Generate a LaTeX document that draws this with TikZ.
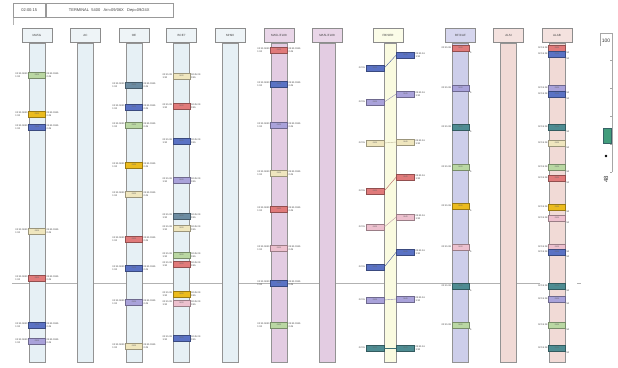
\documentclass[tikz,border=0pt]{standalone}
\usepackage{fontspec}
\setmainfont{Liberation Sans}
\usetikzlibrary{shadows}
\definecolor{sred}{HTML}{E07A7A}
\definecolor{sblue}{HTML}{5A72C4}
\definecolor{sgreen}{HTML}{B9D7A2}
\definecolor{sgold}{HTML}{EBBB1E}
\definecolor{sbeige}{HTML}{EFE6BE}
\definecolor{slav}{HTML}{A9A2DA}
\definecolor{steal}{HTML}{4E8C92}
\definecolor{sslate}{HTML}{6C8CA2}
\definecolor{spink}{HTML}{EDC0CE}
\definecolor{lblue}{HTML}{E6F0F5}
\definecolor{hblue}{HTML}{EEF4F7}
\definecolor{lpurp}{HTML}{E3CCE2}
\definecolor{hpurp}{HTML}{E9D6E8}
\definecolor{lyell}{HTML}{FAFBE0}
\definecolor{hyell}{HTML}{FBFCE8}
\definecolor{llav}{HTML}{CDCEEA}
\definecolor{hlav}{HTML}{D6D6EE}
\definecolor{lpink}{HTML}{F1DAD6}
\definecolor{hpink}{HTML}{F4E2DF}
\begin{document}
\begin{tikzpicture}[x=1pt,y=-1pt,
  lane/.style={draw=gray!85, line width=0.55pt, minimum width=16pt, minimum height=319pt, inner sep=0pt, anchor=north},
  hdr/.style={draw=gray!90, line width=0.6pt, minimum width=30pt, minimum height=14pt, inner sep=0pt, anchor=south, font=\fontsize{3}{3.5}\selectfont, text=black!75, drop shadow={shadow xshift=0.6pt, shadow yshift=-0.6pt, fill=gray!50}},
  slot/.style={minimum width=17pt, minimum height=5.5pt, inner sep=0pt, line width=0.5pt, font=\fontsize{2}{2}\selectfont, text=black!60},
  lbl/.style={inner sep=0.6pt, font=\fontsize{2.4}{2.8}\selectfont, text=black!75, align=left},
  topbox/.style={draw=gray!80, line width=0.5pt, minimum height=14pt, inner sep=1pt, anchor=north west, font=\fontsize{4}{4.5}\selectfont, text=black!75},
  rule/.style={draw=gray!60, line width=0.5pt}]
\useasboundingbox (0,0) rectangle (618,367);
\fill[white] (0,0) rectangle (618,367);

% top-left information box
\node[topbox, minimum width=32pt] (t1) at (13,3) {02:00:15};
\node[topbox, minimum width=127pt] (t2) at (t1.north east) {TERMINAL\ \ 5400\ \ \ Arr=09/06X\ \ \ Dep=09/24X};
\coordinate (tt) at (13,25);
\draw[rule] (t1.south west) -- (tt);

% horizontal time rule
\coordinate (r1) at (12,283);
\coordinate (r2) at (540,283);
\coordinate (r3) at (577,283);
\coordinate (r4) at (581,283);
\draw[rule] (r1) -- (r2);
\draw[rule] (r3) -- (r4);

% lanes
\node[lane, fill=lblue] (L1) at (37,43) {};
\node[lane, fill=lblue] (L2) at (85.5,43) {};
\node[lane, fill=lblue] (L3) at (134,43) {};
\node[lane, fill=lblue] (L4) at (181.5,43) {};
\node[lane, fill=lblue] (L5) at (230,43) {};
\node[lane, fill=lpurp] (L6) at (279,43) {};
\node[lane, fill=lpurp] (L7) at (327,43) {};
\node[lane, fill=lyell, minimum width=12pt] (L8) at (390,43) {};
\node[lane, fill=llav] (L9) at (460.5,43) {};
\node[lane, fill=lpink] (L10) at (508.5,43) {};
\node[lane, fill=lpink] (L11) at (557,43) {};

% headers
\node[hdr, fill=hblue] (H1) at (37,43) {MA5G};
\node[hdr, fill=hblue] (H2) at (85.5,43) {AC};
\node[hdr, fill=hblue] (H3) at (134,43) {OE};
\node[hdr, fill=hblue] (H4) at (181.5,43) {BCE7};
\node[hdr, fill=hblue] (H5) at (230,43) {MH90};
\node[hdr, fill=hpurp] (H6) at (279,43) {MA5L/FL08};
\node[hdr, fill=hpurp] (H7) at (327,43) {MA5L/FL08};
\node[hdr, fill=hyell] (H8) at (388,43) {FB/SER};
\node[hdr, fill=hlav] (H9) at (460.5,43) {BF/CAF};
\node[hdr, fill=hpink] (H10) at (508.5,43) {ALSI};
\node[hdr, fill=hpink] (H11) at (557,43) {ALAB};

% column 1
\foreach \y/\c [count=\i] in {75/sgreen,114/sgold,127/sblue,231/sbeige,278/sred,325/sblue,341/slav}{
  \node[slot, fill=\c, draw=\c!65!black] (a\i) at (37,\y) {0820};
  \node[lbl, anchor=east] (a\i l) at (a\i.west) {02:15 0830\\1:30};
  \node[lbl, anchor=west] (a\i r) at (a\i.east) {03:45 0915\\0:45};
}
% column 3
\foreach \y/\c [count=\i] in {85/sslate,107/sblue,125/sgreen,165/sgold,194/sbeige,239/sred,268/sblue,302/slav,346/sbeige}{
  \node[slot, fill=\c, draw=\c!65!black] (b\i) at (134,\y) {0820};
  \node[lbl, anchor=east] (b\i l) at (b\i.west) {02:15 0830\\1:30};
  \node[lbl, anchor=west] (b\i r) at (b\i.east) {03:45 0915\\0:45};
}
% column 4
\foreach \y/\c [count=\i] in {76/sbeige,106/sred,141/sblue,180/slav,216/sslate,228/sbeige,255/sgreen,264/sred,294/sgold,303/spink,338/sblue}{
  \node[slot, fill=\c, draw=\c!65!black] (c\i) at (181.5,\y) {0820};
  \node[lbl, anchor=east] (c\i l) at (c\i.west) {02:15 08\\1:30};
  \node[lbl, anchor=west] (c\i r) at (c\i.east) {03:45 09\\0:45};
}
% column 6
\foreach \y/\c [count=\i] in {50/sred,84/sblue,125/slav,173/sbeige,209/sred,248/spink,283/sblue,325/sgreen}{
  \node[slot, fill=\c, draw=\c!65!black] (d\i) at (279,\y) {0820};
  \node[lbl, anchor=east] (d\i l) at (d\i.west) {02:15 0830\\1:30};
  \node[lbl, anchor=west] (d\i r) at (d\i.east) {03:45 0915\\0:45};
}
% column 8 (paired slots)
\foreach \ya/\yb/\c [count=\i] in {68/55/sblue,102/94/slav,143/142/sbeige,191/177/sred,227/217/spink,267/252/sblue,300/299/slav,348/348/steal}{
  \node[slot, minimum width=18pt, fill=\c, draw=\c!65!black] (p\i) at (375,\ya) {0820};
  \node[slot, minimum width=18pt, fill=\c, draw=\c!65!black] (q\i) at (405.5,\yb) {0845};
  \draw[draw=\c!80!black, line width=0.4pt] (p\i.east) -- (q\i.west);
  \node[lbl, anchor=east] (p\i l) at (p\i.west) {02:15};
  \node[lbl, anchor=west] (q\i r) at (q\i.east) {03:45 16\\1:30};
}
% column 9
\foreach \y/\c [count=\i] in {48/sred,88/slav,127/steal,167/sgreen,206/sgold,247/spink,286/steal,325/sgreen}{
  \node[slot, fill=\c, draw=\c!65!black] (e\i) at (460.5,\y) {0820};
  \node[lbl, anchor=east] (e\i l) at (e\i.west) {02:15 08};
  \node[lbl, anchor=north west] (e\i r) at (e\i.south east) {5};
}
% column 11
\foreach \y/\c [count=\i] in {48/sred,54/sblue,88/slav,94/sblue,127/steal,143/sbeige,167/sgreen,178/sred,207/sgold,218/spink,247/spink,252/sblue,286/steal,299/slav,325/sgreen,348/steal}{
  \node[slot, fill=\c, draw=\c!65!black] (f\i) at (557,\y) {0820};
  \node[lbl, anchor=east] (f\i l) at (f\i.west) {02:15 08};
  \node[lbl, anchor=north west] (f\i r) at (f\i.south east) {50};
}

% right-hand gauge
\coordinate (g1) at (612,33);
\coordinate (g2) at (612,172);
\coordinate (g0) at (600,33);
\coordinate (g3) at (600,46);
\draw[gray!70, line width=0.5pt] (g0) -- (g1) -- (g2);
\draw[gray!70, line width=0.5pt] (g0) -- (g3);
\foreach \t in {60,88,116,144,172}{
  \coordinate (tk\t) at (612,\t);
  \draw[gray!70, line width=0.4pt] (tk\t) -- ++(-2,0);
}
\node[font=\fontsize{5}{5}\selectfont, inner sep=0pt, text=black!80] (g100) at (606,41) {100};
\node[fill=steal!85!green, draw=steal!70!black, line width=0.3pt, minimum width=8pt, minimum height=15pt, inner sep=0pt] (gbar) at (607,135.5) {};
\node[circle, fill=black, inner sep=0pt, minimum size=2.6pt] (gdot) at (606,156) {};
\node[rotate=90, font=\fontsize{6}{6}\selectfont, inner sep=0pt, text=black!80] (g48) at (606,179) {48};
\end{tikzpicture}
\end{document}
